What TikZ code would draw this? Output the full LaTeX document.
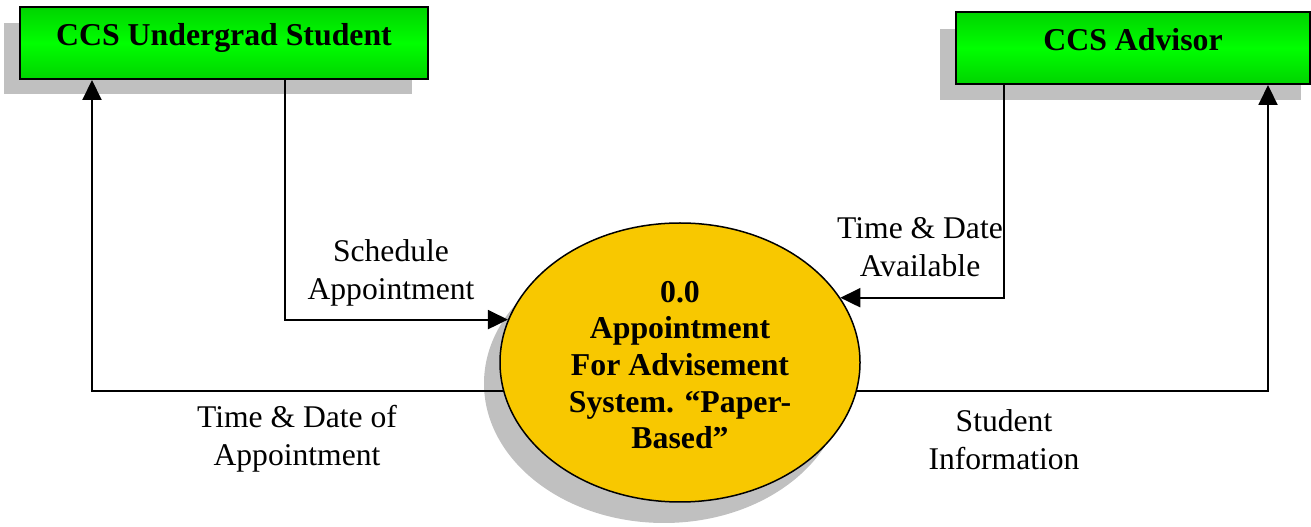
\documentclass[tikz,border=0pt]{standalone}
\usepackage{fontspec}
\setmainfont{Liberation Serif}
\usetikzlibrary{arrows.meta,shapes.geometric}
\definecolor{entgreen}{HTML}{00FF00}
\definecolor{entgreendark}{HTML}{00D400}
\definecolor{procgold}{HTML}{F8C800}
\definecolor{shade}{HTML}{C0C0C0}
\tikzset{
  entity/.style={draw=black, line width=2pt, rectangle, inner sep=0pt,
    minimum height=72pt, top color=entgreendark, bottom color=entgreendark,
    middle color=entgreen, font=\fontsize{31.8}{36}\selectfont\bfseries,
    text height=0.75em, text depth=0.3em},
  shadowbox/.style={fill=shade, draw=none},
  process/.style={draw=black, line width=1.5pt, ellipse, fill=procgold,
    minimum width=360pt, minimum height=279pt, inner sep=0pt},
  proctext/.style={align=center, font=\fontsize{31.8}{36.7}\selectfont\bfseries},
  flowlabel/.style={align=center, font=\fontsize{31.6}{38}\selectfont},
  flow/.style={line width=2pt, -{Triangle[length=20pt,width=19pt]}},
}
\begin{document}
\begin{tikzpicture}[x=1pt,y=1pt]
  \useasboundingbox (0,0) rectangle (1311,527);

  % drop shadows
  \fill[shadowbox] (4,433) rectangle (412,504);
  \fill[shadowbox] (940,427) rectangle (1301,498);
  \node[ellipse, fill=shade, minimum width=360pt, minimum height=279pt,
        inner sep=0pt] (ellshadow) at (664,143.5) {};

  % external entities
  \node[entity, minimum width=408pt] (student) at (224,484) {CCS Undergrad Student};
  \node[entity, minimum width=354pt] (advisor) at (1133,479) {CCS Advisor};

  % process
  \node[process] (proc) at (680,164.5) {};
  \node[proctext] (proctitle) at (680,162)
    {0.0\\Appointment\\For Advisement\\System. ``Paper-\\Based''};

  % data flows
  \draw[flow] (proc.189.8) -| ([xshift=-132pt]student.south);
  \draw[flow] ([xshift=61pt]student.south) |- (proc.166.1);
  \draw[flow] ([xshift=-129pt]advisor.south) |- (proc.22.8);
  \draw[flow] (proc.351.1) -| ([xshift=135pt]advisor.south);

  % flow labels
  \node[flowlabel] (lsched) at (391,254) {Schedule\\Appointment};
  \node[flowlabel] (ltime) at (297,88) {Time \& Date of\\Appointment};
  \node[flowlabel] (lavail) at (920,280) {Time \& Date\\Available};
  \node[flowlabel] (linfo) at (1004,87) {Student\\Information};
\end{tikzpicture}
\end{document}
